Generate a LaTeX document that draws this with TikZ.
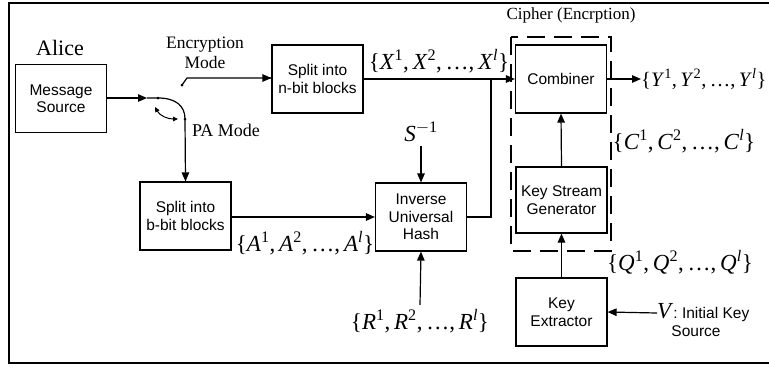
\documentclass[tikz,border=0pt]{standalone}
\usepackage{fontspec}
\setmainfont{Liberation Serif}
\setsansfont{Liberation Sans}
\usetikzlibrary{arrows.meta}
% a sequence of blocks {Z^1, Z^2, ..., Z^l}
\newcommand{\blockset}[1]{\{\textit{#1}\textsuperscript{1},\,\textit{#1}\textsuperscript{2},\,\dots,\,\textit{#1}\textsuperscript{\textit{l}}\}}
\begin{document}
\begin{tikzpicture}[x=1pt,y=-1pt,
  box/.style={draw, line width=1.2pt, minimum width=91pt, minimum height=68pt,
    inner sep=0pt, align=center, font=\sffamily\fontsize{15.5}{17.5}\selectfont},
  wire/.style={line width=1.2pt},
  arr/.style={wire, -{Triangle[length=9pt,width=7.5pt]}},
  lbl/.style={font=\fontsize{17.5}{20}\selectfont, align=center, inner sep=0pt},
  setlbl/.style={font=\fontsize{23}{26}\selectfont, inner sep=0pt},
  dot/.style={circle, fill, inner sep=0pt, minimum size=3pt},
  cipher/.style={line width=1.2pt, dash pattern=on 18pt off 9pt}]
\useasboundingbox (0,0) rectangle (769,368);
% frame
\draw[line width=1.4pt] (9,3) rectangle (790,363);

% blocks
\node[box] (msg)  at (61,98.5) {Message\\Source};
\node[box] (nbit) at (317.5,79) {Split into\\n-bit blocks};
\node[box] (comb) at (561,79) {Combiner};
\node[box] (bbit) at (185.5,216) {Split into\\b-bit blocks};
\node[box] (hash) at (421,217) {Inverse\\Universal\\Hash};
\node[box, minimum height=66pt] (ksg) at (561.5,200) {Key Stream\\Generator};
\node[box] (ke)   at (561.5,312) {Key\\Extractor};

% labels
\node[font=\fontsize{22}{24}\selectfont, inner sep=0pt] (alice) at (60,48) {Alice};
\node[lbl] (encmode) at (205,53) {Encryption\\Mode};
\node[lbl, font=\fontsize{18}{20}\selectfont] (pamode) at (226,130) {PA Mode};
\node[lbl, font=\fontsize{17}{20}\selectfont] (ciphlbl) at (571,15) {Cipher (Encrption)};
\node[setlbl] (xset) at (439,61) {\blockset{X}};
\node[setlbl, anchor=west, font=\fontsize{20.5}{26}\selectfont] (yset) at (641,79) {\blockset{Y}};
\node[setlbl] (cset) at (684,141) {\blockset{C}};
\node[setlbl] (qset) at (680,262) {\blockset{Q}};
\node[setlbl] (aset) at (305,243) {\blockset{A}};
\node[setlbl] (rset) at (420,321) {\blockset{R}};
\node[setlbl] (sinv) at (421,132) {\textit{S}\textsuperscript{\(-\)1}};
\node[anchor=west, inner sep=0pt] (vlbl) at (657,313)
  {{\fontsize{23}{26}\selectfont\textit{V}}\sffamily\fontsize{15.5}{17}\selectfont: Initial Key};
\node[inner sep=0pt, font=\sffamily\fontsize{15.5}{17}\selectfont] (vsrc) at (696,331) {Source};

% mode switch
\coordinate (sw0) at (147,98);
\node[dot] (sw1) at (158,98) {};
\node[dot] (sw2) at (185,119) {};
\node[dot] (sw3) at (182,85) {};
\coordinate (sw4) at (187,78);
\draw[arr] (msg.east |- sw0) -- (sw0);
\draw[wire] (sw0) -- (sw1.center) .. controls (176,98) and (185,106) .. (sw2.center);
\draw[arr] (sw2.center) -- (bbit.north);
\draw[wire] (sw3.center) -- (sw4) -- (nbit.west |- sw4);
\draw[arr] (nbit.west |- sw4) ++(-1,0) -- (nbit.west |- sw4);
\coordinate (rot0) at (155,107);
\coordinate (rot1) at (178,119);
\draw[wire, line width=1pt, {Triangle[length=5pt,width=4.5pt]}-{Triangle[length=5pt,width=4.5pt]}]
  (rot0) .. controls (160,116) and (168,119) .. (rot1);

% data path
\draw[arr] (nbit.east |- comb.west) -- (comb.west);
\coordinate (join) at (491,79);
\draw[wire] (hash.east) -| (join);
\draw[arr] (bbit.east |- hash.west) -- (hash.west);
\draw[arr] (sinv.south) ++(0,4) -- (hash.north);
\draw[arr] (rset.north) ++(0,-4) -- (hash.south);
\draw[arr] (comb.east) -- (yset.west);
\draw[arr] (ksg.north) -- (comb.south);
\draw[arr] (ke.north) -- (ksg.south);
\draw[arr] (vlbl.west) -- (ke.east);

% cipher boundary
\draw[cipher] (511,37) rectangle (611,251);
\end{tikzpicture}
\end{document}
